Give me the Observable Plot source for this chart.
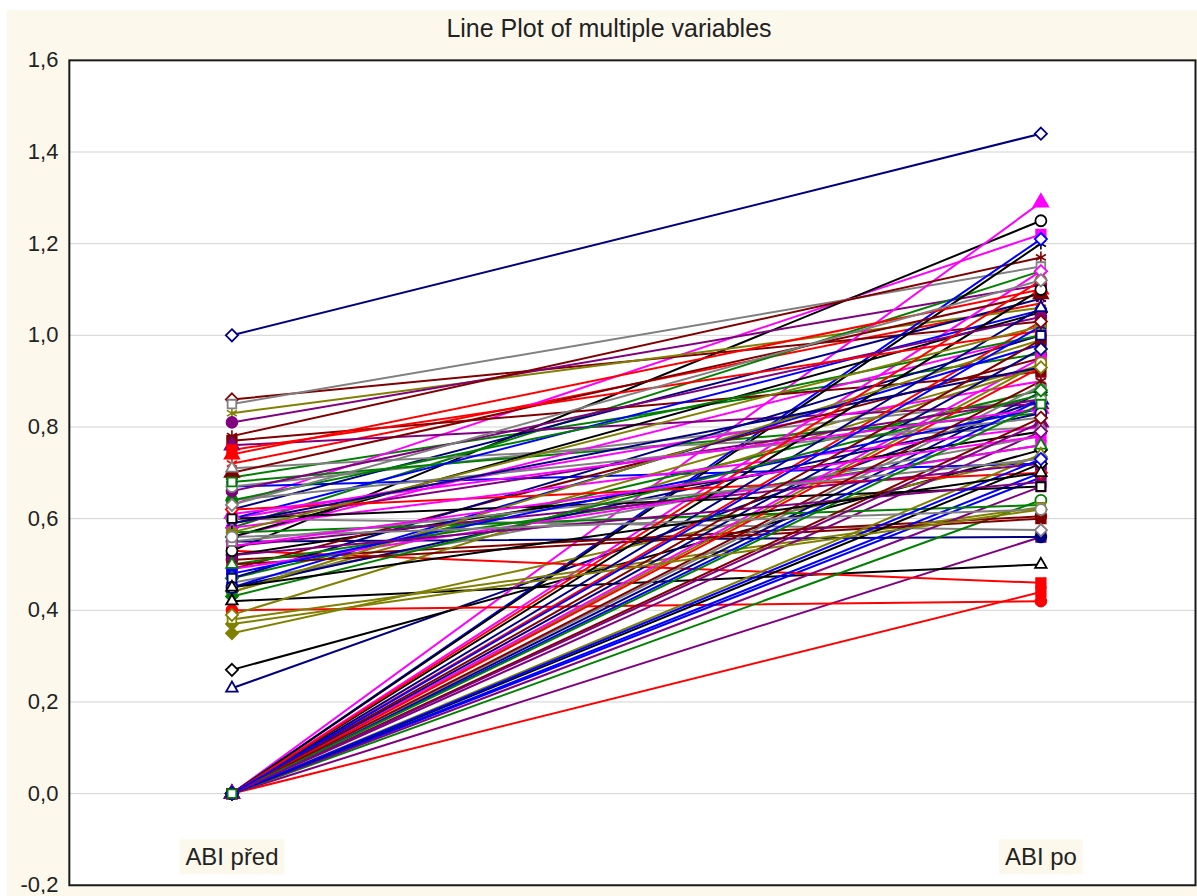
<!DOCTYPE html>
<html><head><meta charset="utf-8">
<script src="https://cdn.jsdelivr.net/npm/d3@7"></script>
<script src="https://cdn.jsdelivr.net/npm/@observablehq/plot@0.6"></script>
<style>
html,body{margin:0;padding:0;background:#fff;overflow:hidden;width:1197px;height:896px}
#bg{position:absolute;left:7px;top:10px;width:1190px;height:886px;background:#fdf8ec}
#title{position:absolute;left:0;top:14px;width:1218px;text-align:center;font:25px "Liberation Sans",Arial,sans-serif;color:#222}
#chart{position:absolute;left:0;top:0}
</style></head><body>
<div id="bg"></div>
<div id="title">Line Plot of multiple variables</div>
<div id="chart"></div>
<script>
// Variables (x categories)
const categories = ["ABI před", "ABI po"];

// ABI before (před) per subject
const abiPred = [
  1.00, 0.72, 0.69, 0.63, 0.53, 0.86, 0.83, 0.81, 0.85, 0.67,
  0.23, 0.00, 0.58, 0.00, 0.27, 0.78, 0.44, 0.00, 0.67, 0.00,
  0.62, 0.40, 0.68, 0.56, 0.42, 0.77, 0.35, 0.76, 0.60, 0.00,
  0.55, 0.53, 0.00, 0.00, 0.00, 0.51, 0.38, 0.00, 0.71, 0.00,
  0.00, 0.74, 0.47, 0.60, 0.52, 0.49, 0.00, 0.00, 0.46, 0.60,
  0.47, 0.00, 0.50, 0.00, 0.56, 0.70, 0.39, 0.59, 0.00, 0.45,
  0.45, 0.62, 0.57, 0.58, 0.60, 0.50, 0.00, 0.54, 0.64, 0.00,
  0.00, 0.00, 0.64, 0.49, 0.00, 0.00, 0.44, 0.66, 0.55, 0.48,
  0.00, 0.75, 0.43, 0.61, 0.00, 0.00, 0.57, 0.52, 0.56, 0.00,
  0.59, 0.00, 0.00, 0.54, 0.45, 0.00, 0.37, 0.00, 0.63, 0.00
];

// ABI after (po) per subject
const abiPo = [
  1.44, 1.07, 0.96, 1.22, 1.25, 1.03, 1.06, 1.11, 1.15, 0.72,
  0.86, 0.44, 1.14, 1.29, 0.75, 1.17, 0.935, 0.56, 0.86, 1.21,
  1.08, 0.42, 0.83, 1.00, 0.50, 0.92, 0.735, 0.85, 0.575, 0.69,
  0.56, 0.46, 0.64, 1.14, 1.20, 0.605, 0.625, 0.67, 0.80, 0.70,
  0.876, 1.10, 0.88, 0.90, 0.79, 0.95, 0.94, 0.79, 0.78, 1.055,
  1.00, 1.03, 0.76, 0.95, 1.05, 1.09, 0.93, 0.86, 0.89, 0.98,
  0.83, 0.70, 0.63, 0.80, 0.67, 0.60, 0.74, 0.72, 0.82, 0.86,
  0.97, 0.93, 1.00, 0.76, 1.10, 0.82, 0.99, 1.04, 0.73, 0.84,
  1.06, 1.01, 0.87, 0.84, 0.72, 0.90, 1.02, 0.68, 0.62, 0.73,
  0.93, 1.12, 0.85, 0.78, 0.70, 0.99, 0.62, 0.81, 1.12, 1.02
];

// Y axis tick values
const yTicks = [-0.2, 0.0, 0.2, 0.4, 0.6, 0.8, 1.0, 1.2, 1.4, 1.6];

// Styling (series colours and markers cycle)
const palette = ["#000080", "#ff0000", "#008000", "#ff00ff", "#000000", "#800000", "#808000", "#800080", "#808080", "#0000ff"];
const symbolCycle = ["diamond2", "asterisk", "circle", "square", "circle", "diamond2", "asterisk", "circle", "square2", "square", "triangle2", "square", "diamond2", "triangle"];
const hollowCycle = [true, false, false, false, true, true, false, false, true, false, true, false, false, false];

const subjects = abiPred.map((_, i) => `Pacient ${i + 1}`);
const rows = subjects.flatMap((s, i) => [
  {subject: s, idx: i, when: categories[0], abi: abiPred[i]},
  {subject: s, idx: i, when: categories[1], abi: abiPo[i]}
]);
const isHollow = (r) => hollowCycle[r.idx % hollowCycle.length];
const hollowRows = rows.filter(isHollow);
const filledRows = rows.filter((r) => !isHollow(r));

const fmt = (d) => d.toFixed(1).replace(".", ",");

const chart = Plot.plot({
  width: 1200,
  height: 896,
  marginTop: 60,
  marginBottom: 9,
  marginLeft: 69,
  marginRight: 2,
  style: {background: "transparent", fontFamily: '"Liberation Sans", Arial, sans-serif', color: "#222"},
  x: {type: "point", domain: categories, padding: 0.19605, align: 0.5126, axis: null},
  y: {domain: [-0.2, 1.6], axis: null, label: null},
  color: {type: "ordinal", domain: subjects, range: palette},
  symbol: {type: "ordinal", domain: subjects, range: symbolCycle},
  marks: [
    Plot.frame({fill: "white", stroke: "none"}),
    Plot.gridY(yTicks, {stroke: "#d2d2d2", strokeOpacity: 1}),
    Plot.axisY(yTicks, {tickSize: 0, tickPadding: 11, tickFormat: fmt, fontSize: 22, fill: "#222", label: null}),
    Plot.text(categories, {x: (d) => d, frameAnchor: "bottom", dy: -20, fontSize: 24, fill: "#222", className: "xlab"}),
    Plot.line(rows, {x: "when", y: "abi", z: "subject", stroke: "subject", strokeWidth: 2}),
    Plot.dot(filledRows, {x: "when", y: "abi", symbol: "subject", fill: "subject", stroke: "subject", r: 5.5, strokeWidth: 1.6}),
    Plot.dot(hollowRows, {x: "when", y: "abi", symbol: "subject", fill: "white", stroke: "subject", r: 5.5, strokeWidth: 1.8}),
    Plot.frame({stroke: "#1a1a1a", strokeWidth: 2})
  ]
});
document.getElementById("chart").appendChild(chart);

// cream boxes behind the category labels
const svgNS = "http://www.w3.org/2000/svg";
chart.querySelectorAll("g.xlab text").forEach((t) => {
  const b = t.getBBox();
  const r = document.createElementNS(svgNS, "rect");
  r.setAttribute("x", b.x - 6);
  r.setAttribute("y", b.y - 4);
  r.setAttribute("width", b.width + 12);
  r.setAttribute("height", b.height + 8);
  r.setAttribute("fill", "#fdf8ec");
  if (t.getAttribute("transform")) r.setAttribute("transform", t.getAttribute("transform"));
  t.parentNode.insertBefore(r, t);
});
</script>
</body></html>
